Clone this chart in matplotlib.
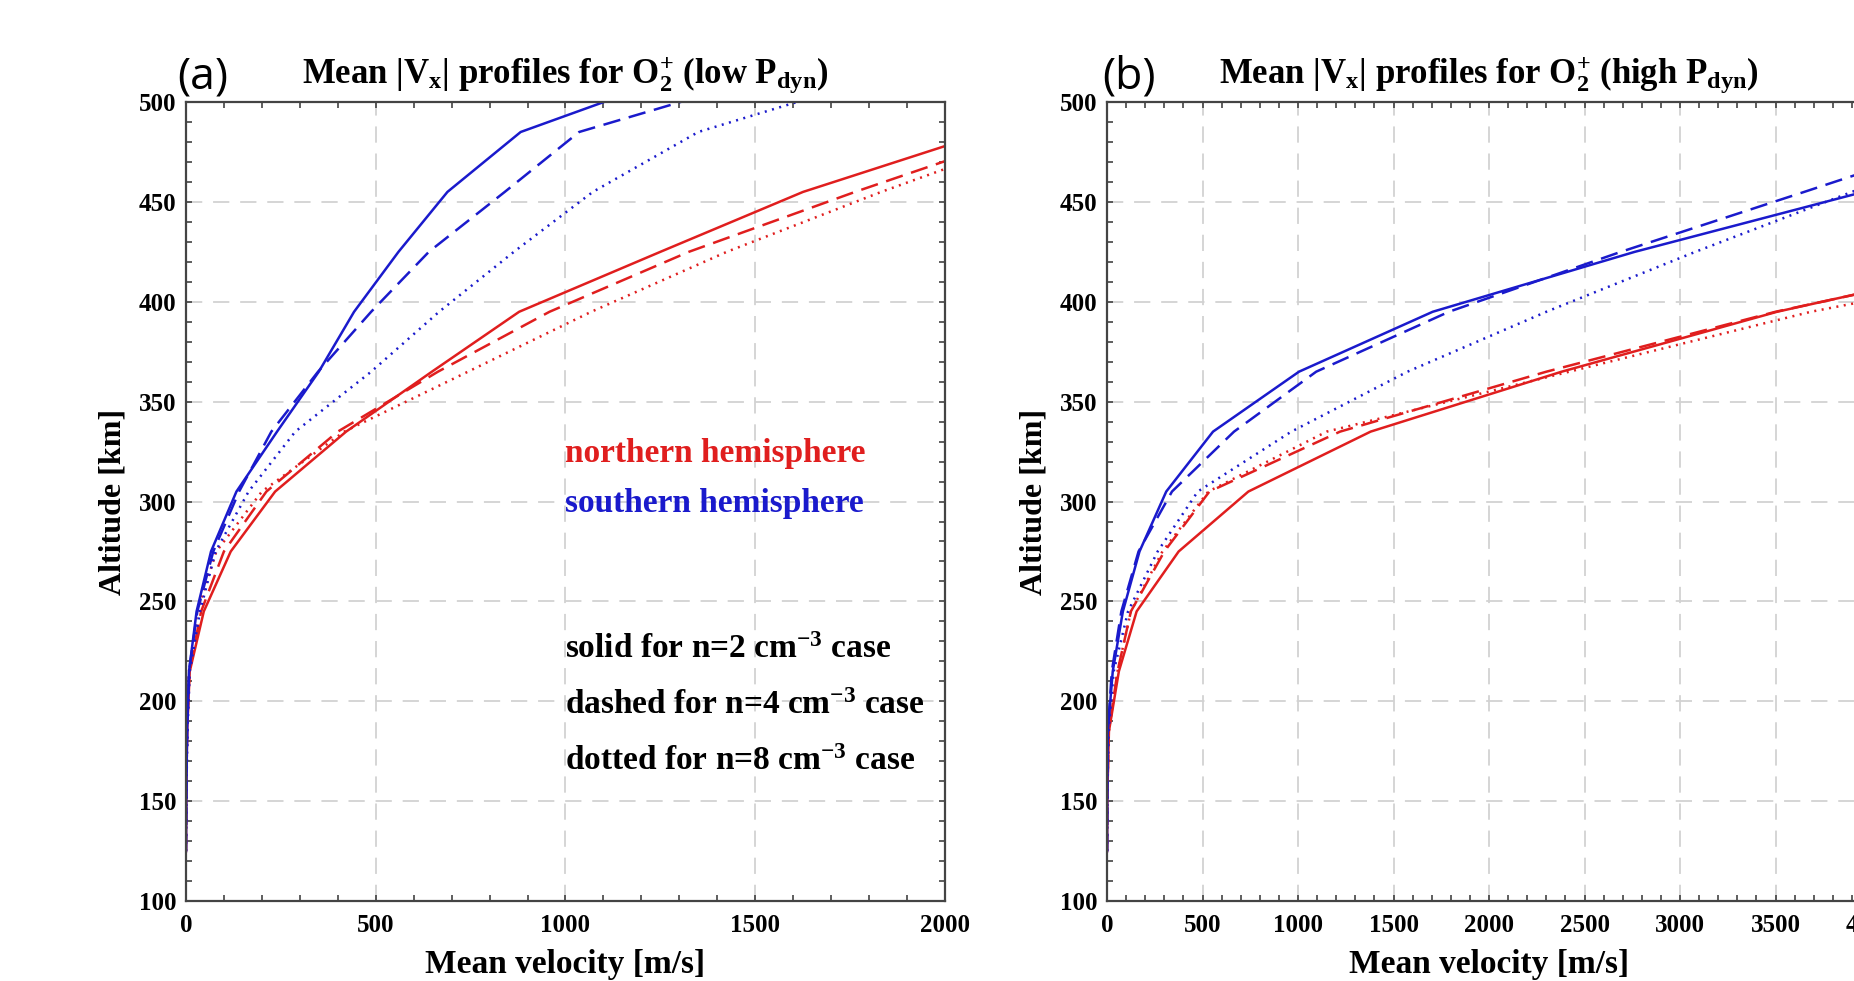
import matplotlib
matplotlib.use("Agg")
import matplotlib.pyplot as plt
from matplotlib.ticker import MultipleLocator

plt.rcParams['font.family'] = ['Liberation Serif', 'DejaVu Serif']
plt.rcParams['font.weight'] = 'bold'
plt.rcParams['axes.titleweight'] = 'bold'
plt.rcParams['axes.labelweight'] = 'bold'
plt.rcParams['mathtext.fontset'] = 'custom'
plt.rcParams['mathtext.rm'] = 'Liberation Serif:bold'
plt.rcParams['mathtext.it'] = 'Liberation Serif:bold'
plt.rcParams['mathtext.bf'] = 'Liberation Serif:bold'

# altitude grid of the model output [km]
altitude = [125, 155, 185, 215, 245, 275, 305, 335, 365, 395, 425, 455, 485, 515]

# (a) low dynamic pressure, mean |Vx| [m/s]
north_n2_low = [0, 1, 3, 10, 47, 118, 235, 422, 648, 878, 1250, 1626, 2115, 2600]
north_n4_low = [0, 1, 3, 9, 40, 100, 212, 400, 664, 958, 1325, 1763, 2225, 2700]
north_n8_low = [0, 1, 3, 8, 30, 80, 200, 417, 743, 1068, 1425, 1832, 2270, 2750]
south_n2_low = [0, 1, 3, 8, 28, 66, 133, 240, 350, 443, 560, 689, 882, 1320]
south_n4_low = [0, 1, 3, 8, 30, 72, 140, 225, 348, 488, 640, 840, 1036, 1570]
south_n8_low = [0, 1, 4, 10, 37, 78, 165, 288, 488, 667, 864, 1072, 1350, 1870]

# (b) high dynamic pressure
north_n2_high = [0, 2, 10, 62, 155, 375, 740, 1380, 2380, 3508, 4920]
north_n4_high = [0, 2, 9, 55, 125, 300, 536, 1220, 2300, 3500, 4950]
north_n8_high = [0, 2, 9, 55, 125, 290, 530, 1150, 2420, 3685, 5300]
south_n2_high = [0, 1, 4, 30, 83, 170, 310, 555, 1005, 1705, 2763, 3960, 5200]
south_n4_high = [0, 1, 4, 25, 75, 165, 340, 665, 1095, 1790, 2690, 3650, 4600]
south_n8_high = [0, 1, 8, 35, 110, 265, 475, 965, 1573, 2300, 3080, 3900, 4700]

red = '#e01e1e'
blue = '#1a1acc'
dashed = (0, (7, 3.5))
dotted = (0, (0.8, 2.2))

fig = plt.figure(figsize=(18.54, 9.81), dpi=100)
ax1 = fig.add_axes([0.1003, 0.0815, 0.4094, 0.8145])
ax2 = fig.add_axes([0.5971, 0.0815, 0.4121, 0.8145])


def draw_panel(ax, north, south, xmax, pdyn):
    for vals, ls in zip(north, ['-', dashed, dotted]):
        ax.plot(vals, altitude[:len(vals)], color=red, linestyle=ls, linewidth=1.8)
    for vals, ls in zip(south, ['-', dashed, dotted]):
        ax.plot(vals, altitude[:len(vals)], color=blue, linestyle=ls, linewidth=1.8)
    ax.set_xlim(0, xmax)
    ax.set_ylim(100, 500)
    ax.xaxis.set_major_locator(MultipleLocator(500))
    ax.xaxis.set_minor_locator(MultipleLocator(100))
    ax.yaxis.set_major_locator(MultipleLocator(50))
    ax.yaxis.set_minor_locator(MultipleLocator(10))
    ax.tick_params(which='both', direction='in', top=True, right=True,
                   length=4.5, width=1.1, color='#333333', labelsize=18)
    ax.tick_params(axis='x', pad=9)
    ax.tick_params(axis='y', pad=7)
    ax.grid(True, which='major', color='#d2d2d2', linestyle=(0, (9, 6)), linewidth=1.3)
    ax.set_axisbelow(True)
    for sp in ax.spines.values():
        sp.set_color('#444444')
        sp.set_linewidth(1.6)
    ax.set_xlabel('Mean velocity [m/s]', fontsize=24, fontweight='bold', labelpad=9)
    ax.set_ylabel('Altitude [km]', fontsize=23, fontweight='bold', labelpad=8)
    ax.set_title(r'Mean |V$_{x}$| profiles for O$_{2}^{+}$ (' + pdyn + r' P$_{dyn}$)',
                 fontsize=25, fontweight='bold', pad=14)


draw_panel(ax1, [north_n2_low, north_n4_low, north_n8_low],
           [south_n2_low, south_n4_low, south_n8_low], 2000, 'low')
draw_panel(ax2, [north_n2_high, north_n4_high, north_n8_high],
           [south_n2_high, south_n4_high, south_n8_high], 4000, 'high')

# annotations in panel (a)
notes = [(324, 'northern hemisphere', red),
         (299, 'southern hemisphere', blue),
         (226, r'solid for n=2 cm$^{-3}$ case', 'black'),
         (198, r'dashed for n=4 cm$^{-3}$ case', 'black'),
         (170, r'dotted for n=8 cm$^{-3}$ case', 'black')]
for y, txt, col in notes:
    ax1.text(1000, y, txt, color=col, fontsize=24, fontweight='bold', va='center')

fig.text(0.0955, 0.921, '(a)', family=['Open Sans', 'DejaVu Sans'], weight='normal',
         fontsize=32, va='center', ha='left')
fig.text(0.5945, 0.921, '(b)', family=['Open Sans', 'DejaVu Sans'], weight='normal',
         fontsize=32, va='center', ha='left')

fig.savefig('out.png', dpi=100)
